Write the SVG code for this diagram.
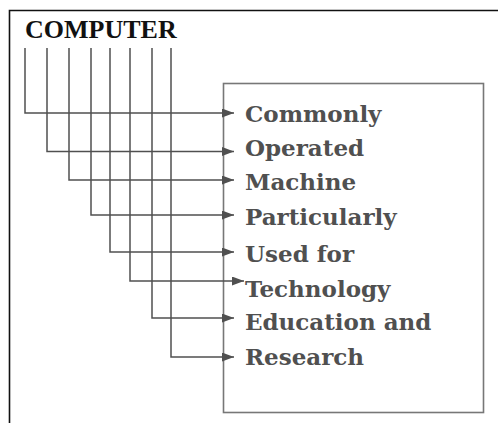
<svg xmlns="http://www.w3.org/2000/svg" width="498" height="423" viewBox="0 0 498 423">
  <style>
    .frame { fill: none; stroke: #111; stroke-width: 1.6; }
    .box { fill: none; stroke: #777; stroke-width: 1.6; }
    .link { fill: none; stroke: #505050; stroke-width: 1.5; marker-end: url(#head); }
    .title { font-family: "Liberation Serif", "Times New Roman", serif; font-weight: bold; font-size: 26px; fill: #111; }
    .item { font-family: "DejaVu Serif", "Liberation Serif", serif; font-weight: bold; font-size: 23px; fill: #505050; }
  </style>
  <defs>
    <marker id="head" markerUnits="userSpaceOnUse" markerWidth="13" markerHeight="10" refX="12" refY="4.5" orient="auto">
      <path d="M0,0 L12,4.5 L0,9 Z" fill="#505050"/>
    </marker>
  </defs>

  <!-- page frame -->
  <path class="frame" d="M9.5,423 V10.5 H498"/>

  <g id="title">
    <text class="title" x="25" y="38">COMPUTER</text>
  </g>

  <g id="word-box">
    <rect class="box" x="223.5" y="83.5" width="260" height="329"/>
  </g>

  <!-- one line per letter of the title, each ending at its word -->
  <g id="connectors">
    <path class="link" d="M25,48 V113 H234"/>
    <path class="link" d="M47,48 V151.5 H234"/>
    <path class="link" d="M69,48 V180 H234"/>
    <path class="link" d="M91,48 V215 H234"/>
    <path class="link" d="M110,48 V252 H234"/>
    <path class="link" d="M130,48 V281 H244"/>
    <path class="link" d="M152,48 V318 H234"/>
    <path class="link" d="M171,48 V357 H234"/>
  </g>

  <g id="word-1"><text class="item" x="245" y="122">Commonly</text></g>
  <g id="word-2"><text class="item" x="245" y="155.5">Operated</text></g>
  <g id="word-3"><text class="item" x="245" y="190">Machine</text></g>
  <g id="word-4"><text class="item" x="245" y="225">Particularly</text></g>
  <g id="word-5"><text class="item" x="245" y="261.5">Used for</text></g>
  <g id="word-6"><text class="item" x="245" y="296.5">Technology</text></g>
  <g id="word-7"><text class="item" x="245" y="330">Education and</text></g>
  <g id="word-8"><text class="item" x="245" y="365">Research</text></g>
</svg>
